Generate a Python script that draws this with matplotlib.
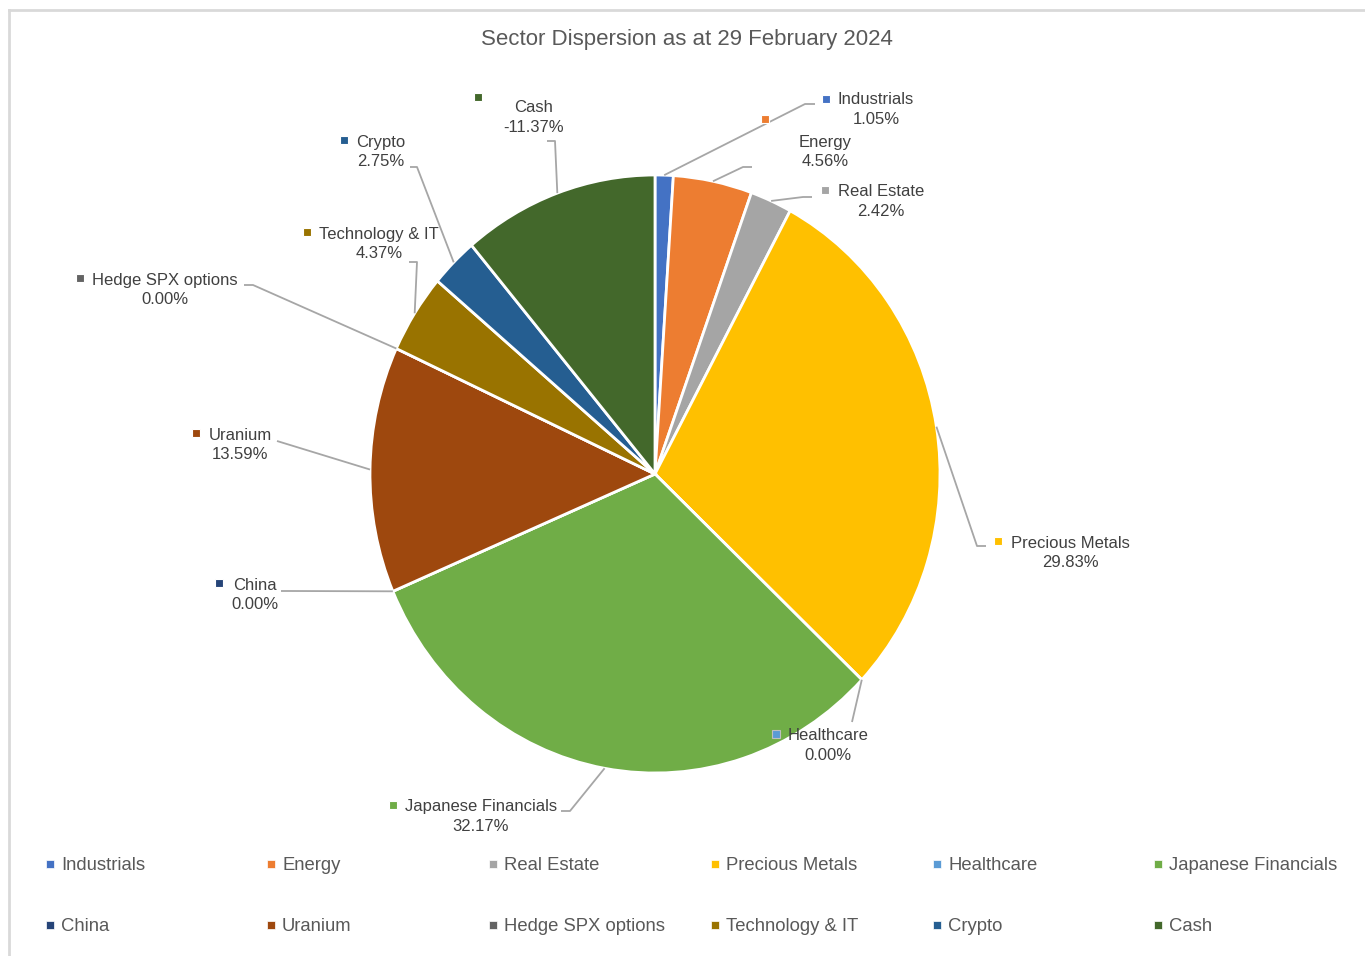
"""
Sector dispersion pie chart (29 February 2024), Excel-style labels and legend.
"""

import numpy as np
import matplotlib.pyplot as plt

plt.rcParams['font.family'] = ['Liberation Sans', 'DejaVu Sans']

# Data
SECTORS = ["Industrials", "Energy", "Real Estate", "Precious Metals", "Healthcare",
           "Japanese Financials", "China", "Uranium", "Hedge SPX options",
           "Technology & IT", "Crypto", "Cash"]
WEIGHTS = [1.05, 4.56, 2.42, 29.83, 0.00, 32.17, 0.00, 13.59, 0.00, 4.37, 2.75, -11.37]
COLORS = ["#4472C4", "#ED7D31", "#A5A5A5", "#FFC000", "#5B9BD5", "#70AD47",
          "#264478", "#9E480E", "#636363", "#997300", "#255E91", "#43682B"]
TITLE = "Sector Dispersion as at 29 February 2024"

# Layout (pixels in the 1365x956 canvas)
W, H = 1365, 956
CX, CY, RX, RY = 655, 474, 285, 299
LABEL_XY = [(876, 100), (825, 142), (881, 192), (1070, 543), (828, 736), (481, 807),
            (255, 585), (240, 435), (165, 280), (379, 234), (381, 142), (534, 108)]
MARKER_XY = [(826, 99), (765, 119), (825, 190), (998, 541), (776, 734), (393, 805),
             (219, 583), (196, 433), (80, 278), (307, 232), (344, 140), (478, 97)]
ELBOW_XY = [(805, 104), (743, 167), (803, 197), (977, 546), (852, 722), (570, 811),
            (290, 591), (277, 441), (253, 285), (417, 262), (417, 167), (555, 141)]
END_XY = [(815, 104), (752, 167), (812, 197), (986, 546), (852, 722), (561, 811),
          (281, 591), (277, 441), (244, 285), (409, 262), (410, 167), (547, 141)]
LEGEND_X = [50, 271, 493, 715, 937, 1158]
LEGEND_Y = [864, 925]

LABEL_COLOR = "#404040"
TEXT_COLOR = "#595959"
LEADER_COLOR = "#A6A6A6"


def px(x, y):
    """Pixel position -> data coordinates (pie centre at 0,0, radius 1)."""
    return (x - CX) / RX, (CY - y) / RY


def main():
    fig = plt.figure(figsize=(W / 100, H / 100), dpi=100)
    ax = fig.add_axes([0, 0, 1, 1])

    sizes = [abs(w) for w in WEIGHTS]
    wedges, _ = ax.pie(sizes, colors=COLORS, startangle=90, counterclock=False,
                       radius=1, wedgeprops=dict(edgecolor="white", linewidth=2))

    ax.set_aspect("auto")
    ax.set_xlim(-CX / RX, (W - CX) / RX)
    ax.set_ylim((CY - H) / RY, CY / RY)
    ax.axis("off")

    # Data labels with leader lines
    for i, wedge in enumerate(wedges):
        mid = np.deg2rad((wedge.theta1 + wedge.theta2) / 2)
        sx, sy = np.cos(mid), np.sin(mid)
        ex, ey = px(*ELBOW_XY[i])
        nx, ny = px(*END_XY[i])
        ax.plot([sx, ex, nx], [sy, ey, ny], color=LEADER_COLOR, lw=1.3,
                solid_capstyle="butt", zorder=1)

        lx, ly = LABEL_XY[i]
        ax.text(*px(lx, ly), SECTORS[i], ha="center", va="center",
                fontsize=12, color=LABEL_COLOR)
        ax.text(*px(lx, ly + 19.5), f"{WEIGHTS[i]:.2f}%", ha="center", va="center",
                fontsize=12, color=LABEL_COLOR)
        edge = "#BFBFBF" if SECTORS[i] == "Healthcare" else "white"
        ax.plot(*px(*MARKER_XY[i]), marker="s", ms=5.5, color=COLORS[i],
                mec=edge, mew=0.8)

    # Title
    ax.text(*px(687, 40), TITLE, ha="center", va="center", fontsize=16,
            color=TEXT_COLOR)

    # Legend (two rows of six, row-major like Excel)
    for i, name in enumerate(SECTORS):
        mx = LEGEND_X[i % 6]
        my = LEGEND_Y[i // 6]
        ax.plot(*px(mx, my), marker="s", ms=5.5, color=COLORS[i], mec="white", mew=0.5)
        ax.text(*px(mx + 11, my + 1), name, ha="left", va="center",
                fontsize=13.3, color=TEXT_COLOR)

    # Chart area border (top and left edges visible)
    ax.plot(*zip(px(9, 10), px(1365, 10)), color="#D9D9D9", lw=2, zorder=0)
    ax.plot(*zip(px(9, 10), px(9, 956)), color="#D9D9D9", lw=2, zorder=0)

    fig.savefig("out.png", dpi=100)


if __name__ == "__main__":
    main()
